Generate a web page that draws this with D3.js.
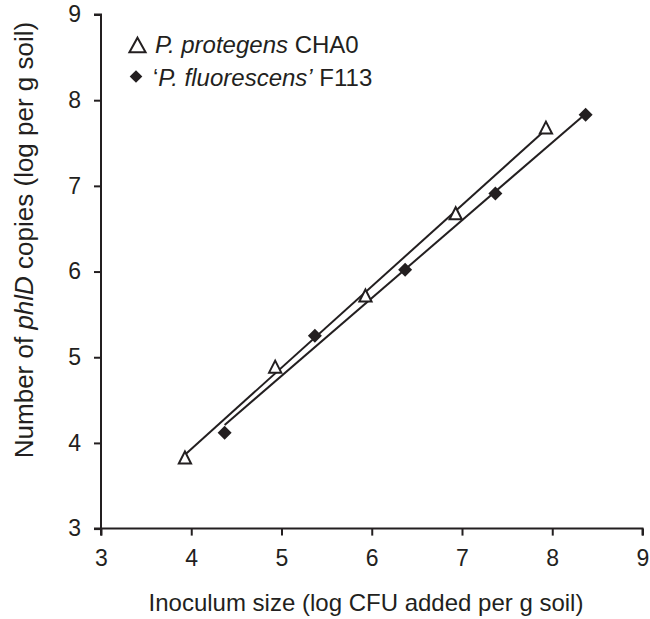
<!DOCTYPE html>
<html><head><meta charset="utf-8">
<script src="https://cdn.jsdelivr.net/npm/d3@7"></script>
<style>body{margin:0;background:#fff}svg text{font-family:"Liberation Sans",Arial,sans-serif;fill:#231f20}</style>
</head><body><svg id="c" width="650" height="619"></svg>
<script>
const xTicks = [3,4,5,6,7,8,9];
const yTicks = [3,4,5,6,7,8,9];
const chaX = [3.93,4.93,5.93,6.93,7.93];
const chaY = [3.83,4.89,5.72,6.68,7.68];
const f113X = [4.37,5.37,6.37,7.37,8.37];
const f113Y = [4.12,5.25,6.02,6.91,7.83];

const svg = d3.select("#c");
const x = d3.scaleLinear().domain([3,9]).range([101,642.5]);
const y = d3.scaleLinear().domain([3,9]).range([528.6,14.5]);
const ink = "#231f20";

const xa = svg.append("g").attr("transform","translate(0,528.6)")
  .call(d3.axisBottom(x).tickValues(xTicks).tickSize(7).tickPadding(14).tickFormat(d3.format("d")));
const ya = svg.append("g").attr("transform","translate(101,0)")
  .call(d3.axisLeft(y).tickValues(yTicks).tickSize(7).tickPadding(13).tickFormat(d3.format("d")));
[xa,ya].forEach(a=>{
  a.select(".domain").attr("stroke",ink).attr("stroke-width",2);
  a.selectAll(".tick line").attr("stroke",ink).attr("stroke-width",2);
  a.selectAll(".tick text").attr("font-size",23).attr("fill",ink).style("font-family","Liberation Sans, Arial, sans-serif");
});
xa.select(".domain").attr("d",`M${x(3)},7V0H${x(9)}V7`);
ya.select(".domain").attr("d",`M-7,${y(9)}H0V${y(3)}H-7`);

function fit(xs,ys){
  const mx=d3.mean(xs), my=d3.mean(ys);
  const b=d3.sum(xs,(v,i)=>(v-mx)*(ys[i]-my))/d3.sum(xs,v=>(v-mx)**2);
  const a=my-b*mx;
  const x0=d3.min(xs), x1=d3.max(xs);
  return [[x0,a+b*x0],[x1,a+b*x1]];
}
const line = d3.line().x(d=>x(d[0])).y(d=>y(d[1]));
[[chaX,chaY],[f113X,f113Y]].forEach(([xs,ys])=>{
  svg.append("path").attr("d",line(fit(xs,ys))).attr("fill","none").attr("stroke",ink).attr("stroke-width",2);
});

function triType(ratio){
  return {draw(ctx,size){const h=Math.sqrt(size), w=h*ratio;
    ctx.moveTo(0,-h/2); ctx.lineTo(w/2,h/2); ctx.lineTo(-w/2,h/2); ctx.closePath();}};
}
const tri = d3.symbol().type(triType(1.02)).size(144);
const dia = d3.symbol().type(d3.symbolSquare).size(98);
svg.append("g").selectAll("path").data(chaX.map((v,i)=>[v,chaY[i]])).join("path")
  .attr("d",tri).attr("transform",d=>`translate(${x(d[0])},${y(d[1])})`)
  .attr("fill","#fff").attr("stroke",ink).attr("stroke-width",2);
svg.append("g").selectAll("path").data(f113X.map((v,i)=>[v,f113Y[i]])).join("path")
  .attr("d",dia).attr("transform",d=>`translate(${x(d[0])},${y(d[1])}) rotate(45)`)
  .attr("fill",ink);

// legend
svg.append("path").attr("d",d3.symbol().type(triType(1.1)).size(216)).attr("transform","translate(137.5,45)").attr("fill","#fff").attr("stroke",ink).attr("stroke-width",2);
svg.append("path").attr("d",d3.symbol().type(d3.symbolSquare).size(80)).attr("transform","translate(136,76.5) rotate(45)").attr("fill",ink);
const l1 = svg.append("text").attr("x",155).attr("y",53).attr("font-size",24);
l1.append("tspan").attr("font-style","italic").text("P. protegens");
l1.append("tspan").text(" CHA0");
const l2 = svg.append("text").attr("x",153).attr("y",86).attr("font-size",24);
l2.append("tspan").text("\u2018");
l2.append("tspan").attr("font-style","italic").text("P. fluorescens\u2019");
l2.append("tspan").text(" F113");

svg.append("text").attr("x",366).attr("y",611).attr("text-anchor","middle").attr("font-size",24)
  .text("Inoculum size (log CFU added per g soil)");
const yt = svg.append("text").attr("transform","translate(33,240) rotate(-90)").attr("text-anchor","middle").attr("font-size",26);
yt.append("tspan").text("Number of ");
yt.append("tspan").attr("font-style","italic").text("phlD");
yt.append("tspan").text(" copies (log per g soil)");
</script></body></html>
